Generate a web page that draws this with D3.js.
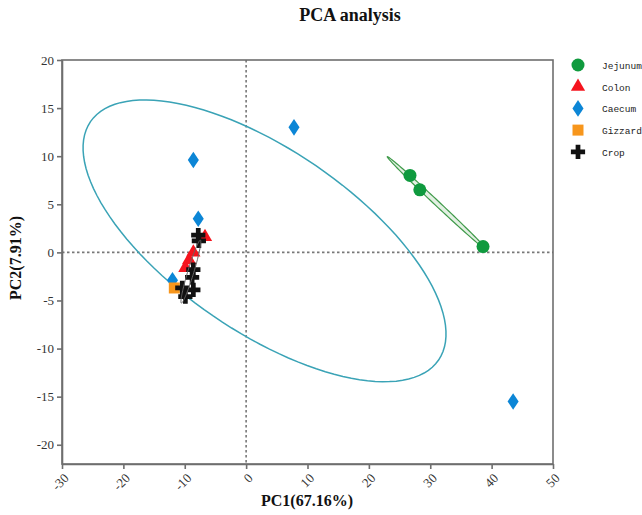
<!DOCTYPE html>
<html>
<head>
<meta charset="utf-8">
<script src="https://cdn.jsdelivr.net/npm/d3@7"></script>
<style>
  html, body { margin: 0; padding: 0; background: #fff; }
  svg { display: block; }
</style>
</head>
<body>
<svg id="chart" width="642" height="515"></svg>
<script>
// ---- data -------------------------------------------------------------
const groups = ["Jejunum", "Colon", "Caecum", "Gizzard", "Crop"];
const groupColors = ["#0f9a3e", "#f5141e", "#0c86d6", "#f7961c", "#111111"];

// sample scores on the first two components [PC1, PC2]
const jejunumPoints = [[26.7, 8.0], [28.3, 6.5], [38.6, 0.6]];
const colonPoints   = [[-6.7, 1.6], [-8.6, 0.0], [-9.3, -0.8], [-9.9, -1.6]];
const caecumPoints  = [[7.8, 13.0], [-8.6, 9.6], [-7.8, 3.5], [43.5, -15.5], [-12.0, -2.9]];
const gizzardPoints = [[-11.7, -3.7]];
const cropPoints    = [[-7.8, 1.8], [-7.7, 1.2], [-8.6, -1.8], [-8.8, -2.6], [-10.4, -3.7], [-8.6, -3.9], [-9.9, -4.6]];

// confidence ellipses: centre and two semi-axis vectors, in PC units
const jejunumEllipse = { c: [31.1, 5.1], u: [8.1, -4.85], v: [0.26, 0.19] };
const caecumEllipse  = { c: [3.0, 1.2], u: [28.36, -12.39], v: [-8.37, -7.81] };
const cropEllipse    = { c: [-9.0, -2.0], u: [1.55, 3.27], v: [0.47, -0.09] };

const xTicks = [-30, -20, -10, 0, 10, 20, 30, 40, 50];
const yTicks = [-20, -15, -10, -5, 0, 5, 10, 15, 20];
const xDomain = [-30, 50];
const yDomain = [-22, 20];

const titleText = "PCA analysis";
const xLabel = "PC1(67.16%)";
const yLabel = "PC2(7.91%)";

// ---- layout -----------------------------------------------------------
const svg = d3.select("#chart");
const plot = { left: 62, right: 553, top: 60, bottom: 464 };

const x = d3.scaleLinear().domain(xDomain).range([plot.left, plot.right]);
const y = d3.scaleLinear().domain(yDomain).range([plot.bottom, plot.top]);

const serif = "'Liberation Serif', 'Times New Roman', serif";
const axisGrey = "#6e6e6e";

// title
svg.append("text")
  .attr("x", 350).attr("y", 21)
  .attr("text-anchor", "middle")
  .style("font-family", serif).style("font-weight", "bold").style("font-size", "18px")
  .attr("fill", "#111")
  .text(titleText);

// zero reference lines
svg.append("line")
  .attr("x1", x(0)).attr("x2", x(0)).attr("y1", plot.top).attr("y2", plot.bottom)
  .attr("stroke", "#777").attr("stroke-width", 1.6).attr("stroke-dasharray", "2.5,2.5");
svg.append("line")
  .attr("x1", plot.left).attr("x2", plot.right).attr("y1", y(0)).attr("y2", y(0))
  .attr("stroke", "#777").attr("stroke-width", 1.6).attr("stroke-dasharray", "2.5,2.5");

// ellipses
function ellipsePath(e) {
  const pts = d3.range(0, 360, 3).map(deg => {
    const t = deg * Math.PI / 180;
    return [e.c[0] + Math.cos(t) * e.u[0] + Math.sin(t) * e.v[0],
            e.c[1] + Math.cos(t) * e.u[1] + Math.sin(t) * e.v[1]];
  });
  return d3.line().x(d => x(d[0])).y(d => y(d[1])).curve(d3.curveLinearClosed)(pts);
}
svg.append("path").attr("d", ellipsePath(caecumEllipse))
  .attr("fill", "none").attr("stroke", "#3aa3b6").attr("stroke-width", 1.5);
svg.append("path").attr("d", ellipsePath(jejunumEllipse))
  .attr("fill", "#d6ead6").attr("fill-opacity", 0.7)
  .attr("stroke", "#3f9a4a").attr("stroke-width", 1.2);

// frame
svg.append("rect")
  .attr("x", plot.left).attr("y", plot.top)
  .attr("width", plot.right - plot.left).attr("height", plot.bottom - plot.top)
  .attr("fill", "none").attr("stroke", axisGrey).attr("stroke-width", 1.6);

// axes
const xAxis = svg.append("g")
  .attr("transform", `translate(0,${plot.bottom})`)
  .call(d3.axisBottom(x).tickValues(xTicks).tickSize(5).tickSizeOuter(0).tickFormat(d3.format("d")));
xAxis.select(".domain").attr("stroke", axisGrey).attr("stroke-width", 1.6);
xAxis.selectAll(".tick line").attr("stroke", axisGrey).attr("stroke-width", 1.6);
xAxis.selectAll(".tick text")
  .attr("y", 0).attr("dy", 0)
  .attr("text-anchor", "end")
  .attr("transform", "translate(7,15) rotate(-45)")
  .style("font-family", serif).style("font-size", "13px").attr("fill", "#333")
  .text(d => String(d));

const yAxis = svg.append("g")
  .attr("transform", `translate(${plot.left},0)`)
  .call(d3.axisLeft(y).tickValues(yTicks).tickSize(5).tickSizeOuter(0).tickFormat(d3.format("d")));
yAxis.select(".domain").attr("stroke", axisGrey).attr("stroke-width", 1.6);
yAxis.selectAll(".tick line").attr("stroke", axisGrey).attr("stroke-width", 1.6);
yAxis.selectAll(".tick text")
  .attr("x", -8)
  .style("font-family", serif).style("font-size", "13px").attr("fill", "#333")
  .text(d => String(d));

// axis titles
svg.append("text")
  .attr("x", 307).attr("y", 506)
  .attr("text-anchor", "middle")
  .style("font-family", serif).style("font-weight", "bold").style("font-size", "16px")
  .attr("fill", "#111")
  .text(xLabel);
svg.append("text")
  .attr("transform", "translate(21,258) rotate(-90)")
  .attr("text-anchor", "middle")
  .style("font-family", serif).style("font-weight", "bold").style("font-size", "16px")
  .attr("fill", "#111")
  .text(yLabel);

// marker shapes
const tallDiamond = {
  draw(ctx, size) {
    const w = Math.sqrt(size / 3);
    const h = w * 1.5;
    ctx.moveTo(0, -h); ctx.lineTo(w, 0); ctx.lineTo(0, h); ctx.lineTo(-w, 0); ctx.closePath();
  }
};
const shapes = [
  d3.symbol().type(d3.symbolCircle).size(133),
  d3.symbol().type(d3.symbolTriangle).size(88),
  d3.symbol().type(tallDiamond).size(92),
  d3.symbol().type(d3.symbolSquare).size(121),
  d3.symbol().type(d3.symbolCross).size(112)
];

function drawGroup(points, gi) {
  svg.append("g").selectAll("path")
    .data(points).join("path")
    .attr("transform", d => `translate(${x(d[0])},${y(d[1])})`)
    .attr("d", shapes[gi]())
    .attr("fill", groupColors[gi]);
}
drawGroup(jejunumPoints, 0);
drawGroup(caecumPoints, 2);
drawGroup(gizzardPoints, 3);
drawGroup(colonPoints, 1);
drawGroup(cropPoints, 4);

// crop ellipse drawn over the cluster
svg.append("path").attr("d", ellipsePath(cropEllipse))
  .attr("fill", "none").attr("stroke", "#666").attr("stroke-width", 1);

// legend
const legend = svg.append("g");
groups.forEach((g, i) => {
  const ly = 65 + i * 21.7;
  legend.append("path")
    .attr("transform", `translate(578,${ly})`)
    .attr("d", shapes[i]())
    .attr("fill", groupColors[i]);
  legend.append("text")
    .attr("x", 602).attr("y", ly + 4)
    .style("font-family", "'Liberation Mono', 'Courier New', monospace")
    .style("font-size", "9.5px")
    .attr("fill", "#222")
    .text(g);
});
</script>
</body>
</html>
